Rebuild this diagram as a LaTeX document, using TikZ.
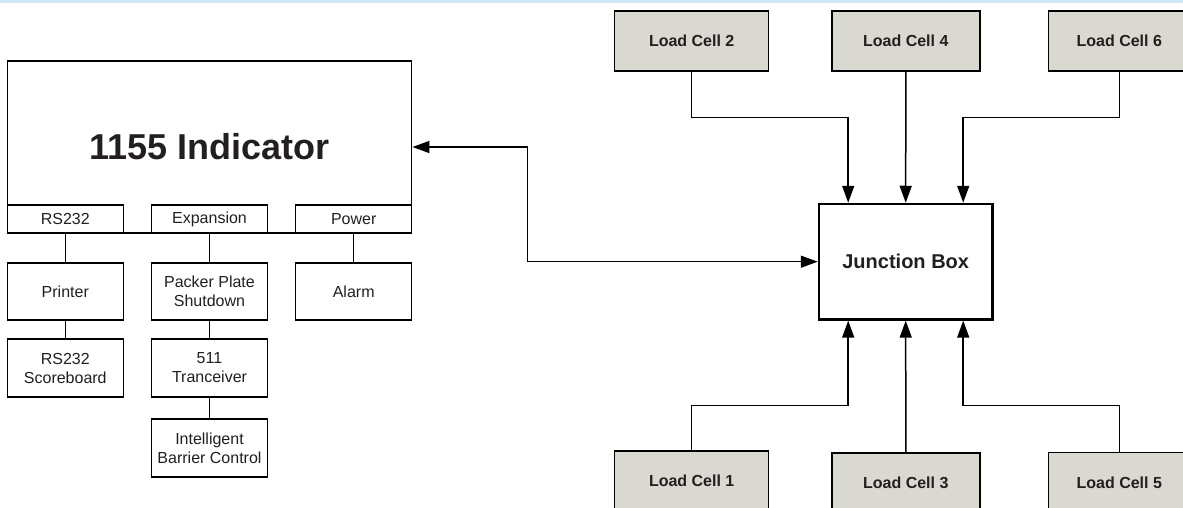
\documentclass[tikz,border=0pt]{standalone}
\usepackage{fontspec}
\setmainfont{Liberation Sans}
\usetikzlibrary{arrows.meta}
\definecolor{band}{RGB}{206,230,242}
\definecolor{cellfill}{RGB}{217,216,209}
\definecolor{ink}{RGB}{35,31,32}
\begin{document}
\begin{tikzpicture}[x=1pt,y=-1pt,
  every node/.style={text=ink},
  box/.style={draw=black, line width=1.5pt, fill=white, inner sep=0pt, align=center,
    font=\fontsize{16}{19}\selectfont},
  cell/.style={draw=black, line width=1.5pt, fill=cellfill, inner sep=0pt, minimum height=60pt,
    font=\bfseries\fontsize{16}{19}\selectfont},
  wire/.style={draw=black, line width=1.5pt},
  arr/.style={wire, -{Triangle[length=17pt,width=12pt]}},
  arrboth/.style={wire, {Triangle[length=17pt,width=12pt]}-{Triangle[length=17pt,width=12pt]}}
]
\useasboundingbox (0,0) rectangle (1183,508);
\clip (0,0) rectangle (1183,508);
\fill[band] (0,0) rectangle (1183,3.5);

% Indicator
\node[box, minimum width=404.4pt, minimum height=172pt, font=\bfseries\fontsize{36}{40}\selectfont] (ind) at (209.5,147) {1155 Indicator};
\node[box, minimum width=116pt, minimum height=28pt] (rs) at (65.3,219) {RS232};
\node[box, minimum width=116pt, minimum height=28pt] (exp) at (209.5,219) {Expansion};
\node[box, minimum width=116pt, minimum height=28pt] (pow) at (353.7,219) {Power};

\node[box, minimum width=116pt, minimum height=57pt] (printer) at (65.3,291.5) {Printer};
\node[box, minimum width=116pt, minimum height=58pt] (score) at (65.3,368) {RS232\\Scoreboard};
\node[box, minimum width=116pt, minimum height=57pt] (packer) at (209.5,291.5) {Packer Plate\\Shutdown};
\node[box, minimum width=116pt, minimum height=58pt] (trans) at (209.5,368) {511\\Tranceiver};
\node[box, minimum width=116pt, minimum height=58pt] (ibc) at (209.5,448) {Intelligent\\Barrier Control};
\node[box, minimum width=116pt, minimum height=57pt] (alarm) at (353.7,291.5) {Alarm};

\draw[wire] (rs.south) -- (printer.north);
\draw[wire] (printer.south) -- (score.north);
\draw[wire] (exp.south) -- (packer.north);
\draw[wire] (packer.south) -- (trans.north);
\draw[wire] (trans.south) -- (ibc.north);
\draw[wire] (pow.south) -- (alarm.north);

% Junction box
\node[draw=black, line width=2.6pt, fill=white, inner sep=0pt, minimum width=173.3pt, minimum height=115.3pt,
  font=\bfseries\fontsize{20}{24}\selectfont] (jb) at (905.7,261.7) {Junction Box};

% Load cells
\node[cell, minimum width=154pt] (lc2) at (691.7,41) {Load Cell 2};
\node[cell, minimum width=148pt] (lc4) at (905.8,41) {Load Cell 4};
\node[cell, minimum width=142pt] (lc6) at (1119.3,41) {Load Cell 6};
\node[cell, minimum width=154pt] (lc1) at (691.7,481) {Load Cell 1};
\node[cell, minimum width=148pt] (lc3) at (905.8,483) {Load Cell 3};
\node[cell, minimum width=142pt] (lc5) at (1119.3,482.7) {Load Cell 5};

\draw[arr] (lc2.south) -- ++(0,46) -| ([xshift=-57.5pt]jb.north);
\draw[arr] (lc4.south) -- (jb.north);
\draw[arr] (lc6.south) -- ++(0,46) -| ([xshift=57.5pt]jb.north);
\draw[arr] (lc1.north) -- ++(0,-45) -| ([xshift=-57.5pt]jb.south);
\draw[arr] (lc3.north) -- (jb.south);
\draw[arr] (lc5.north) -- ++(0,-46.7) -| ([xshift=57.5pt]jb.south);

\draw[arrboth] (ind.east) -- ++(115,0) |- (jb.west);
\end{tikzpicture}
\end{document}
